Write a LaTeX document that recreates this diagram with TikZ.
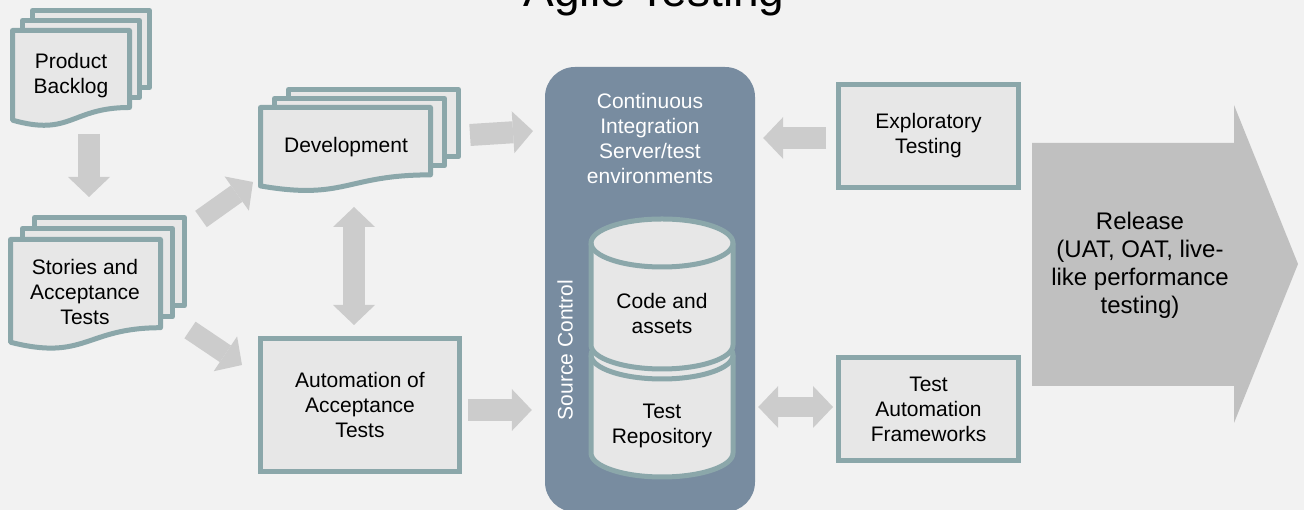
\documentclass[tikz,border=0pt]{standalone}
\usepackage{fontspec}
\setmainfont{Liberation Sans}
\usetikzlibrary{arrows.meta,calc}
\definecolor{bg}{HTML}{F2F2F2}
\definecolor{sheet}{HTML}{E7E7E7}
\definecolor{rim}{HTML}{8BA7AA}
\definecolor{slate}{HTML}{788CA0}
\definecolor{arrowgray}{HTML}{CCCCCC}
\definecolor{relgray}{HTML}{C0C0C0}
\tikzset{
	sheetline/.style={draw=rim, fill=sheet, line width=5pt, line join=round},
	txt/.style={align=center, font=\fontsize{21}{25}\selectfont},
	box/.style={txt, draw=rim, fill=sheet, line width=5pt, minimum width=180pt, minimum height=103pt, inner sep=0pt},
	fat/.style={draw=arrowgray, line width=22pt, >={Triangle[width=42pt,length=20pt,line width=0pt]}},
}
% stack of three sheets, front one with a wavy bottom: x, top, width, height, dx, dy
\newcommand\docstack[6]{%
	\foreach \k in {2,1}{
		\draw[sheetline] ({#1+\k*#5},{#2+\k*#6}) rectangle ++(#3,{-0.802*#4});
	}
	\draw[sheetline] (#1,#2) -- ({#1+#3},#2) -- ({#1+#3},{#2-0.802*#4})
		.. controls ({#1+0.5*#3},{#2-0.802*#4}) and ({#1+0.5*#3},{#2-1.1075*#4}) .. (#1,{#2-0.934*#4}) -- cycle;
}

\begin{document}
\begin{tikzpicture}[x=1pt,y=1pt]
	\useasboundingbox (0,0) rectangle (1304,510);
	\fill[bg] (0,0) rectangle (1304,510);
	\node[anchor=base, font=\fontsize{46}{50}\selectfont] (title) at (654,503) {Agile Testing};

	% documents
	\docstack{12.5}{479.5}{117}{96}{10}{10}
	\node[txt] (pb) at (71,434) {Product\\Backlog};
	\docstack{10.5}{270.5}{150}{110}{12}{11}
	\node[txt] (stories) at (85,218) {Stories and\\Acceptance\\Tests};
	\docstack{260.5}{402.5}{170}{84}{14}{9}
	\node[txt] (dev) at (346,363) {Development};
	\node[box, minimum width=199pt, minimum height=133pt] (auto) at (360,105) {Automation of\\Acceptance\\Tests};

	% CI server with the repository
	\node[fill=slate, rounded corners=30pt, minimum width=210pt, minimum height=445pt, inner sep=0pt] (ci) at (650,220.5) {};
	\node[txt, text=white] (citext) at (650,371) {Continuous\\Integration\\Server/test\\environments};
	\node[txt, text=white, rotate=90] (src) at (565,160) {Source Control};
	\draw[sheetline] (591,155) -- (591,57) arc[start angle=180, end angle=360, x radius=71, y radius=24]
		-- (733,155) arc[start angle=0, end angle=180, x radius=71, y radius=24] -- cycle;
	\draw[rim, line width=5pt] (591,155) arc[start angle=180, end angle=360, x radius=71, y radius=24];
	\draw[sheetline] (591,267) -- (591,165) arc[start angle=180, end angle=360, x radius=71, y radius=24]
		-- (733,267) arc[start angle=0, end angle=180, x radius=71, y radius=24] -- cycle;
	\draw[rim, line width=5pt] (591,267) arc[start angle=180, end angle=360, x radius=71, y radius=24];
	\node[txt] (code) at (662,196) {Code and\\assets};
	\node[txt] (repo) at (662,84) {Test\\Repository};

	% testing boxes
	\node[box] (expl) at (928.5,374) {Exploratory\\Testing};
	\node[box] (taf) at (928.5,101) {Test\\Automation\\Frameworks};

	% release
	\fill[relgray] (1032,367) -- (1234,367) -- (1234,405) -- (1298,246) -- (1234,87) -- (1234,124) -- (1032,124) -- cycle;
	\node[txt, font=\fontsize{24}{28}\selectfont] (rel) at (1140,245) {Release\\(UAT, OAT, live-\\like performance\\testing)};

	% arrows
	\coordinate (pb-s) at (89,376);
	\coordinate (st-n) at (89,313);
	\coordinate (st-ne) at (201,291);
	\coordinate (dev-sw) at (253,328);
	\coordinate (st-se) at (190,180);
	\coordinate (auto-nw) at (242,145);
	\coordinate (dev-s) at (354,303);
	\coordinate (dev-e) at (470,375);
	\coordinate (ci-nw) at (533,379);
	\draw[fat,->] (pb-s) -- (st-n);
	\draw[fat,->,line width=20pt] (st-ne) -- (dev-sw);
	\draw[fat,->,line width=20pt] (st-se) -- (auto-nw);
	\draw[fat,<->] (dev-s) -- ([yshift=11pt]auto.north -| dev-s);
	\draw[fat,->] (dev-e) -- (ci-nw);
	\draw[fat,->] ([xshift=6pt,yshift=-5pt]auto.east) -- ([xshift=-13pt,yshift=-5pt]auto.east -| ci.west);
	\draw[fat,->] ([xshift=-10pt,yshift=-2pt]expl.west) -- ([xshift=8pt,yshift=-2pt]expl.west -| ci.east);
	\draw[fat,<->,line width=20pt] ([xshift=-3pt,yshift=2pt]taf.west) -- ([xshift=3pt,yshift=2pt]taf.west -| ci.east);
\end{tikzpicture}
\end{document}
